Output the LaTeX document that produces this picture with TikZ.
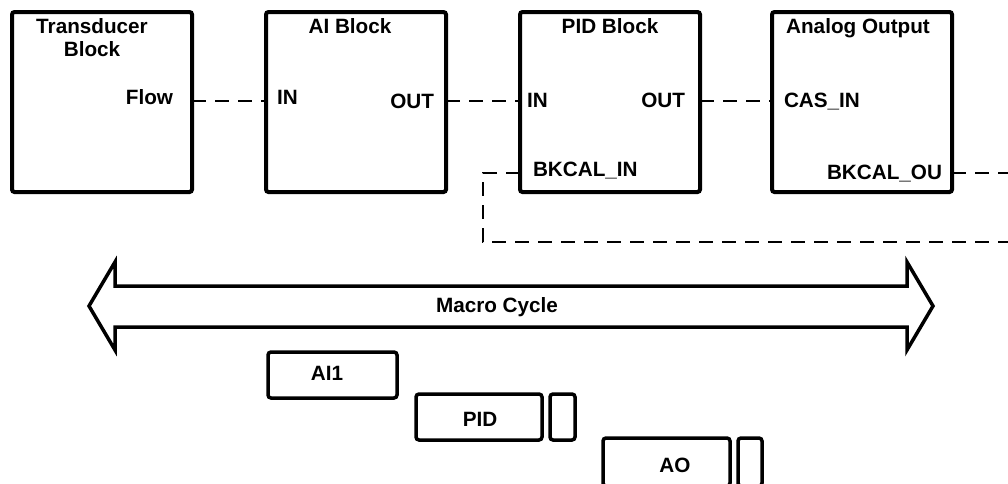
\documentclass[tikz,border=0pt]{standalone}
\usepackage{fontspec}
\setmainfont{Liberation Sans}
\begin{document}
\begin{tikzpicture}[x=1pt,y=-1pt,
  every node/.style={font=\fontsize{20.7}{23}\selectfont\bfseries, inner sep=0pt, outer sep=0pt},
  blk/.style={draw, line width=4pt, rounded corners=2.5pt, minimum width=180pt, minimum height=180pt},
  slot/.style={draw, line width=3.5pt, rounded corners=3pt, minimum height=46pt},
  link/.style={line width=2pt, dash pattern=on 14pt off 9pt},
  lbl/.style={anchor=base},
  lblw/.style={anchor=base west},
  lble/.style={anchor=base east}]
\useasboundingbox (0,0) rectangle (1008,483);
\clip (0,0) rectangle (1008,483);
% function blocks
\node[blk] (trans) at (102,102) {};
\node[blk] (ai) at (356,102) {};
\node[blk] (pid) at (610,102) {};
\node[blk] (ao) at (862,102) {};
% titles
\node[lbl, align=center] (ttrans) at (92,56) {Transducer\\Block};
\node[lbl] (tai) at (350,33) {AI Block};
\node[lbl] (tpid) at (610,33) {PID Block};
\node[lbl] (tao) at (858,33) {Analog Output};
% ports
\node[lble] (pflow) at (173,104) {Flow};
\node[lblw] (paiin) at (277,104) {IN};
\node[lble] (paiout) at (434,108) {OUT};
\node[lblw] (ppidin) at (527,107) {IN};
\node[lble] (ppidout) at (685,107) {OUT};
\node[lblw] (ppidbk) at (533,176) {BKCAL\_IN};
\node[lblw] (paocas) at (784,107) {CAS\_IN};
\node[lble] (paobk) at (942,179) {BKCAL\_OU};
% connectors
\coordinate (y1) at (0,101);
\coordinate (y2) at (0,173);
\coordinate (fbr1) at (1012,173);
\coordinate (fbc) at (483,242);
\coordinate (fbr2) at (1012,242);
\draw[link] (trans.east |- y1) -- (ai.west |- y1);
\draw[link] (ai.east |- y1) -- (pid.west |- y1);
\draw[link] (pid.east |- y1) -- (ao.west |- y1);
\draw[link] (ao.east |- y2) -- (fbr1);
\draw[link] (pid.west |- y2) -| (fbc) -- (fbr2);
% macro cycle arrow
\draw[line width=3.5pt, line join=miter, miter limit=10]
  (89,306) -- (115,262) -- (115,286) -- (907,286) -- (907,262) -- (933,306)
  -- (907,350) -- (907,327) -- (115,327) -- (115,350) -- cycle;
\node[lbl] (tmacro) at (497,312) {Macro Cycle};
% schedule
\node[slot, minimum width=129pt] (sai) at (332.5,375) {};
\node[lbl] (tsai) at (327,380) {AI1};
\node[slot, minimum width=126pt] (spid) at (479,417) {};
\node[slot, minimum width=25pt] (spidx) at (562.5,417) {};
\node[lbl] (tspid) at (480,426) {PID};
\node[slot, minimum width=127pt, minimum height=48pt] (sao) at (666.5,462) {};
\node[slot, minimum width=24pt, minimum height=48pt] (saox) at (750,462) {};
\node[lbl] (tsao) at (675,472) {AO};
\end{tikzpicture}
\end{document}
